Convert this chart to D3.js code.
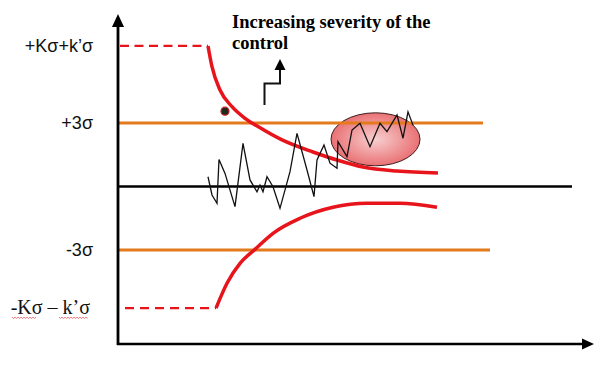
<!DOCTYPE html>
<html>
<head>
<meta charset="utf-8">
<script src="https://cdn.jsdelivr.net/npm/d3@7"></script>
<style>
  body { margin: 0; background: #fff; }
</style>
</head>
<body>
<div class="canvas"></div>
<script>
// control levels, in sigma units
const levelNames = ['+Kσ+k’σ', '+3σ', '-3σ', '-Kσ – k’σ'];
const levelValues = [6.64, 3, -3, -5.75];

// process observations (x = sample position, y = sigma)
const obsX = [9.0, 9.4, 9.9, 10.1, 10.7, 11.7, 12.5, 13.2, 13.9, 14.2, 14.5, 14.9, 15.5, 16.2, 17.2, 17.9, 18.9,
  19.6, 19.9, 20.6, 21.2, 21.9, 22.0, 22.9, 23.4, 24.2, 25.2, 26.2, 26.9, 27.9, 28.5, 29.0, 29.5];
const obsY = [0.46, -0.40, -0.79, 1.28, 0.62, -0.95, 2.04, 0.31, -0.25, 0.07, -0.25, 0.46, -0.01, -1.03, 0.70, 2.51, 0.78,
  -0.48, 1.25, 1.96, 1.10, 0.86, 2.12, 1.41, 2.67, 2.99, 1.88, 2.99, 2.59, 3.38, 2.28, 3.53, 2.90];

// tightening limit curves
const upperX = [9.0, 9.4, 10.2, 11.4, 12.7, 14.0, 16.4, 19.5, 21.9, 24.5, 27.9, 32.0];
const upperY = [6.64, 5.66, 4.56, 3.77, 3.22, 2.83, 2.20, 1.63, 1.25, 0.92, 0.73, 0.64];
const lowerX = [9.8, 10.9, 12.2, 13.7, 15.5, 18.2, 21.5, 24.9, 28.2, 31.9];
const lowerY = [-5.75, -4.57, -3.63, -2.97, -2.21, -1.50, -0.98, -0.79, -0.79, -0.98];

const width = 605, height = 365;

const svg = d3.select('.canvas')
  .append('svg')
    .attr('width', width)
    .attr('height', height);

// scales
const x = d3.scaleLinear().domain([0, 47.4]).range([118, 592]);
const y = d3.scaleLinear().domain([-3, 3]).range([250, 123]);

const defs = svg.append('defs');
const grad = defs.append('radialGradient').attr('id', 'blob')
  .attr('cx', '50%').attr('cy', '50%').attr('r', '55%');
grad.append('stop').attr('offset', '0%').attr('stop-color', '#f7cfd0');
grad.append('stop').attr('offset', '100%').attr('stop-color', '#e8686b');

// title
const title = svg.append('text')
  .attr('x', 232).attr('y', 28)
  .style('font-family', '"Liberation Serif", "Times New Roman", serif')
  .style('font-weight', 'bold')
  .style('font-size', '18.5px');
title.append('tspan').attr('x', 232).text('Increasing severity of the');
title.append('tspan').attr('x', 232).attr('dy', 21).text('control');

// step arrow
svg.append('path')
  .attr('d', `M264.5,105 V83.5 H280 V68`)
  .attr('fill', 'none').attr('stroke', '#111').attr('stroke-width', 2);
svg.append('path')
  .attr('d', 'M280,59 L285.5,70 L274.5,70 Z')
  .attr('fill', '#000');

// highlighted out-of-control region
svg.append('ellipse')
  .attr('cx', x(25.75)).attr('cy', y(2.23))
  .attr('rx', 44.5).attr('ry', 26.5)
  .attr('fill', 'url(#blob)')
  .attr('stroke', '#3a1f1f').attr('stroke-width', 1);

// horizontal lines: center and +-3 sigma
svg.append('line')
  .attr('x1', x(0)).attr('x2', x(45.4))
  .attr('y1', y(0)).attr('y2', y(0))
  .attr('stroke', '#000').attr('stroke-width', 2.5);

const sigmaLines = [{ v: 3, end: 36.5 }, { v: -3, end: 37.2 }];
svg.selectAll('.sig')
  .data(sigmaLines)
  .enter().append('line')
    .attr('class', 'sig')
    .attr('x1', x(0)).attr('x2', d => x(d.end))
    .attr('y1', d => y(d.v)).attr('y2', d => y(d.v))
    .attr('stroke', '#e37a1c').attr('stroke-width', 3);

// dashed outer limits
svg.append('line')
  .attr('x1', x(0.2)).attr('x2', x(9.0))
  .attr('y1', y(levelValues[0])).attr('y2', y(levelValues[0]))
  .attr('stroke', '#e8141b').attr('stroke-width', 2.2).attr('stroke-dasharray', '9,5.5');
svg.append('line')
  .attr('x1', x(0.7)).attr('x2', x(9.8))
  .attr('y1', y(levelValues[3])).attr('y2', y(levelValues[3]))
  .attr('stroke', '#e8141b').attr('stroke-width', 2.2).attr('stroke-dasharray', '9,6');

// limit curves
const curve = d3.line()
  .x(d => x(d[0])).y(d => y(d[1]))
  .curve(d3.curveMonotoneX);

svg.append('path')
  .attr('d', curve(d3.zip(upperX, upperY)))
  .attr('fill', 'none').attr('stroke', '#e8141b').attr('stroke-width', 3.5);
svg.append('path')
  .attr('d', curve(d3.zip(lowerX, lowerY)))
  .attr('fill', 'none').attr('stroke', '#e8141b').attr('stroke-width', 3.5);

// observations
const obsLine = d3.line().x(d => x(d[0])).y(d => y(d[1]));
svg.append('path')
  .attr('d', obsLine(d3.zip(obsX, obsY)))
  .attr('fill', 'none').attr('stroke', '#111').attr('stroke-width', 1.3)
  .attr('stroke-linejoin', 'miter');

// outlier point
svg.append('circle')
  .attr('cx', x(10.7)).attr('cy', y(3.56)).attr('r', 4)
  .attr('fill', '#1d2a1d').attr('stroke', '#c8201c').attr('stroke-width', 1.2);

// axes with arrowheads
svg.append('line')
  .attr('x1', 118).attr('x2', 118).attr('y1', 24).attr('y2', 345)
  .attr('stroke', '#000').attr('stroke-width', 2.8);
svg.append('path').attr('d', 'M118,14 L124,27 L112,27 Z').attr('fill', '#000');
svg.append('line')
  .attr('x1', 117).attr('x2', 584).attr('y1', 344).attr('y2', 344)
  .attr('stroke', '#000').attr('stroke-width', 2.5);
svg.append('path').attr('d', 'M594,344 L582,338.5 L582,349.5 Z').attr('fill', '#000');

// level labels
const labelFont = ['"Liberation Sans", Arial, sans-serif', '"Liberation Sans", Arial, sans-serif',
  '"Liberation Sans", Arial, sans-serif', '"Liberation Serif", "Times New Roman", serif'];
svg.selectAll('.lbl')
  .data(levelNames)
  .enter().append('text')
    .attr('class', 'lbl')
    .attr('x', (d, i) => i === 3 ? 90 : 93)
    .attr('y', (d, i) => y(levelValues[i]) + 6)
    .attr('text-anchor', 'end')
    .style('font-family', (d, i) => labelFont[i])
    .style('font-size', (d, i) => i === 3 ? '20px' : '18px')
    .attr('fill', '#111')
    .text(d => d);

// spell-check squiggles under the lower label
const squig = (x0, x1, yy) => {
  let p = `M${x0},${yy}`;
  for (let xx = x0 + 1.5, k = 1; xx <= x1; xx += 1.5, k++) p += ` L${xx},${yy + (k % 2 ? 1.2 : 0)}`;
  return p;
};
[[12, 37], [59, 88]].forEach(s => {
  svg.append('path').attr('d', squig(s[0], s[1], y(levelValues[3]) + 9))
    .attr('fill', 'none').attr('stroke', '#e55').attr('stroke-width', 0.8);
});
</script>
</body>
</html>
